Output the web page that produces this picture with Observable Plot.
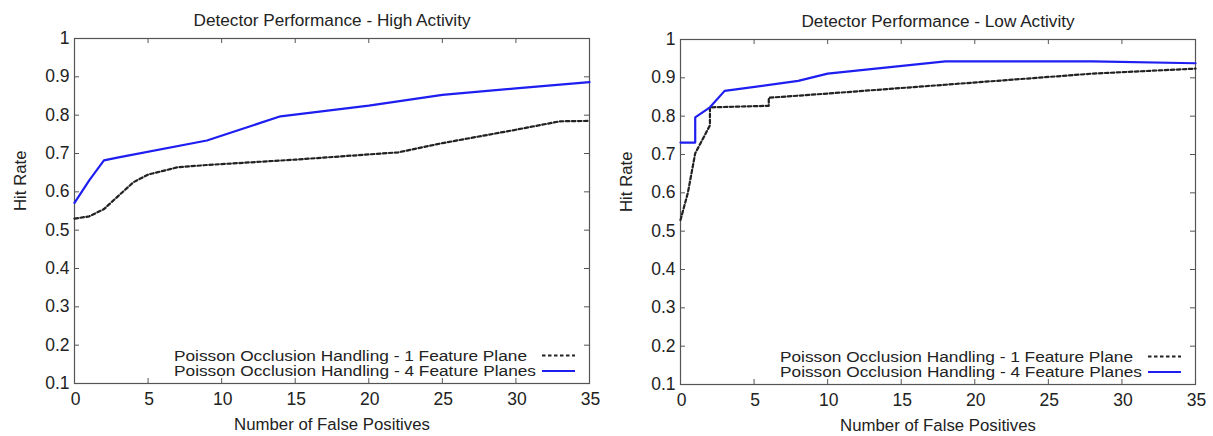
<!DOCTYPE html>
<html><head><meta charset="utf-8">
<script src="https://cdn.jsdelivr.net/npm/d3@7"></script>
<script src="https://cdn.jsdelivr.net/npm/@observablehq/plot@0.6"></script>
<style>
body{margin:0;background:#fff;}
#wrap{display:flex;width:1213px;height:436px;}
#wrap > div{flex:none;}
</style></head><body><div id="wrap"><div id="left"></div><div id="right"></div></div>
<script>
// ---- data ----
const titles = ["Detector Performance - High Activity", "Detector Performance - Low Activity"];
const xLabel = "Number of False Positives";
const yLabel = "Hit Rate";
const seriesNames = ["Poisson Occlusion Handling - 1 Feature Plane", "Poisson Occlusion Handling - 4 Feature Planes"];
const xTicks = [0, 5, 10, 15, 20, 25, 30, 35];
const xTickLabels = ["0", "5", "10", "15", "20", "25", "30", "35"];
const yTicks = [0.1, 0.2, 0.3, 0.4, 0.5, 0.6, 0.7, 0.8, 0.9, 1];
const yTickLabels = ["0.1", "0.2", "0.3", "0.4", "0.5", "0.6", "0.7", "0.8", "0.9", "1"];

// High activity
const highFP_1 = [0, 1, 2, 3, 4, 5, 7, 9, 15, 22, 25, 30, 33, 35];
const highHit_1 = [0.530, 0.536, 0.555, 0.590, 0.625, 0.645, 0.664, 0.670, 0.684, 0.703, 0.727, 0.762, 0.784, 0.785];
const highFP_4 = [0, 1, 2, 3, 9, 14, 20, 25, 30, 35];
const highHit_4 = [0.571, 0.630, 0.682, 0.690, 0.734, 0.797, 0.825, 0.853, 0.870, 0.886];

// Low activity
const lowFP_1 = [0, 0.5, 1, 2, 2, 6, 6, 10, 18, 28, 35];
const lowHit_1 = [0.529, 0.600, 0.703, 0.776, 0.823, 0.827, 0.848, 0.859, 0.882, 0.911, 0.924];
const lowFP_4 = [0, 1, 1, 2, 3, 8, 10, 18, 28, 35];
const lowHit_4 = [0.731, 0.731, 0.797, 0.823, 0.866, 0.892, 0.911, 0.943, 0.943, 0.938];

// ---- styles ----
const FONT = "'Liberation Sans', Arial, Helvetica, sans-serif";
const BLUE = "#1e1ef0";
const DARK = "#222";
const FRAME = "#555";
const DASH = "3.5,2.5";

function pts(xs, ys) { return xs.map((x, i) => ({x, y: ys[i]})); }

function legendMark() {
  return (index, scales, values, dims) => {
    const g = d3.create("svg:g").attr("font-family", FONT).attr("font-size", 14).attr("fill", DARK);
    const right = dims.width - dims.marginRight;
    const bottom = dims.height - dims.marginBottom;
    const rows = [
      {dy: -27.5, len: 353, stroke: DARK, dash: DASH, width: 2},
      {dy: -12, len: 362, stroke: BLUE, dash: null, width: 2.2}
    ];
    rows.forEach((r, i) => {
      const y = bottom + r.dy;
      g.append("text").attr("x", right - 415).attr("y", y).attr("dy", "0.36em")
        .attr("text-anchor", "start").attr("textLength", r.len).attr("lengthAdjust", "spacingAndGlyphs")
        .text(seriesNames[i]);
      const l = g.append("line").attr("x1", right - 47).attr("x2", right - 14)
        .attr("y1", y).attr("y2", y).attr("stroke", r.stroke).attr("stroke-width", r.width);
      if (r.dash) l.attr("stroke-dasharray", r.dash);
    });
    return g.node();
  };
}

function chart({title, d1, d4, width, marginTop, marginBottom, marginLeft, marginRight}) {
  const height = 436;
  const innerW = width - marginLeft - marginRight;
  const innerH = height - marginTop - marginBottom;
  return Plot.plot({
    width, height, marginTop, marginBottom, marginLeft, marginRight,
    style: {fontFamily: FONT, fontSize: "17.5px", background: "#fff", color: DARK},
    x: {domain: [0, 35], axis: null},
    y: {domain: [0.1, 1], axis: null},
    marks: [
      // inward ticks on all four sides
      Plot.tickX(xTicks, {x: d => d, insetBottom: innerH - 5, stroke: FRAME}),
      Plot.tickX(xTicks, {x: d => d, insetTop: innerH - 5, stroke: FRAME}),
      Plot.tickY(yTicks, {y: d => d, insetRight: innerW - 5, stroke: FRAME}),
      Plot.tickY(yTicks, {y: d => d, insetLeft: innerW - 5, stroke: FRAME}),
      Plot.frame({stroke: FRAME, strokeWidth: 1.2}),
      Plot.axisY(yTicks, {tickSize: 0, tickPadding: 5, tickFormat: d => yTickLabels[yTicks.indexOf(d)], label: null, fill: DARK}),
      Plot.axisX(xTicks, {tickSize: 0, tickPadding: 9, dx: 1, tickFormat: d => xTickLabels[xTicks.indexOf(d)], label: null, fill: DARK}),
      Plot.line(d1, {x: "x", y: "y", stroke: DARK, strokeWidth: 2.2, strokeDasharray: DASH, curve: "linear"}),
      Plot.line(d4, {x: "x", y: "y", stroke: BLUE, strokeWidth: 2.2, curve: "linear"}),
      Plot.text([title], {frameAnchor: "top", dy: -18, text: d => d, lineAnchor: "middle", fontSize: 17.2, fill: DARK}),
      Plot.text([xLabel], {frameAnchor: "bottom", dy: 41, text: d => d, lineAnchor: "middle", fontSize: 16.8, fill: DARK}),
      Plot.text([yLabel], {frameAnchor: "left", dx: -54, rotate: -90, text: d => d, lineAnchor: "middle", fontSize: 16.8, fill: DARK}),
      legendMark()
    ]
  });
}

document.getElementById("left").appendChild(chart({
  title: titles[0], d1: pts(highFP_1, highHit_1), d4: pts(highFP_4, highHit_4),
  width: 606, marginTop: 38, marginBottom: 53, marginLeft: 74, marginRight: 17
}));
document.getElementById("right").appendChild(chart({
  title: titles[1], d1: pts(lowFP_1, lowHit_1), d4: pts(lowFP_4, lowHit_4),
  width: 607, marginTop: 39, marginBottom: 52, marginLeft: 74, marginRight: 18
}));
</script>
</body></html>
